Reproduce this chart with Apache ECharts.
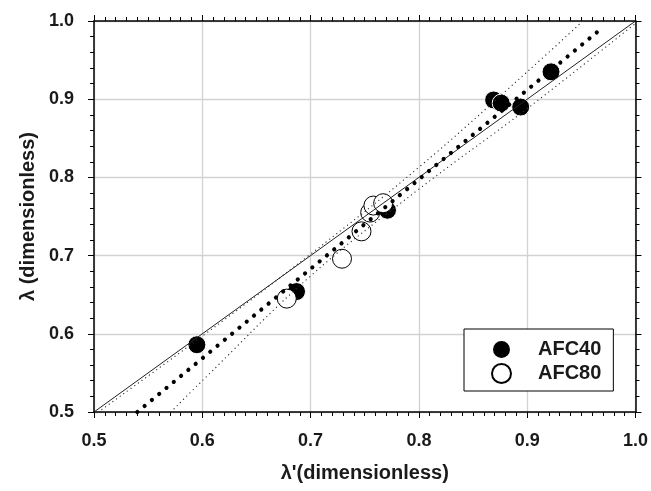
<!DOCTYPE html>
<html>
<head>
<meta charset="utf-8">
<script src="https://cdn.jsdelivr.net/npm/echarts@6/dist/echarts.min.js"></script>
<style>
html,body{margin:0;padding:0;background:#fff;}
#c{width:651px;height:491px;}
</style>
</head>
<body>
<div id="c"></div>
<script>
// ---- data ----
var afc40X = [0.595, 0.687, 0.771, 0.869, 0.876, 0.894, 0.922];
var afc40Y = [0.586, 0.654, 0.758, 0.899, 0.895, 0.890, 0.935];
var afc80X = [0.678, 0.729, 0.747, 0.755, 0.758, 0.767];
var afc80Y = [0.645, 0.696, 0.731, 0.755, 0.764, 0.767];
var identityX = [0.5, 1.0];
var identityY = [0.5, 1.0];
var fitX = [0.540, 0.970];
var fitY = [0.500, 0.992];
var upperX = [0.504, 0.600, 0.700, 0.800, 0.900, 0.949];
var upperY = [0.500, 0.597, 0.702, 0.813, 0.935, 0.997];
var lowerX = [0.571, 0.600, 0.700, 0.800, 0.900, 1.000];
var lowerY = [0.500, 0.540, 0.674, 0.785, 0.888, 0.997];
var tickLabels = ['0.5', '0.6', '0.7', '0.8', '0.9', '1.0'];

function pairs(xs, ys) { return xs.map(function (x, i) { return [x, ys[i]]; }); }
function fmt(v) {
  var s = v.toFixed(1);
  return tickLabels.indexOf(s) >= 0 ? s : '';
}

var FONT = '"Liberation Sans", Arial, sans-serif';
var TXT = '#1a1a1a';

function axisBase(minorSplit, pos, showLabel) {
  return {
    type: 'value', min: 0.5, max: 1.0, interval: 0.1, position: pos,
    axisLine: { show: true, onZero: false, lineStyle: { color: '#000', width: 1.5 } },
    axisTick: { show: true, inside: false, length: 6, lineStyle: { color: '#000', width: 1 } },
    minorTick: { show: true, splitNumber: minorSplit, length: 4, lineStyle: { color: '#000', width: 1 } },
    splitLine: { show: false },
    axisLabel: { show: showLabel, formatter: fmt, color: TXT, fontFamily: FONT, fontWeight: 'bold', fontSize: 18, margin: 20 }
  };
}

var xBottom = axisBase(10, 'bottom', true);
xBottom.splitLine = { show: true, lineStyle: { color: '#d2d2d2', width: 1.3 } };
xBottom.name = "λ'(dimensionless)";
xBottom.nameLocation = 'middle';
xBottom.nameGap = 51;
xBottom.nameTextStyle = { color: TXT, fontFamily: FONT, fontWeight: 'bold', fontSize: 20 };
var xTop = axisBase(10, 'top', false);

var yLeft = axisBase(5, 'left', true);
yLeft.splitLine = { show: true, lineStyle: { color: '#d2d2d2', width: 1.3 } };
yLeft.name = 'λ (dimensionless)';
yLeft.nameLocation = 'middle';
yLeft.nameGap = 51;
yLeft.nameTextStyle = { color: TXT, fontFamily: FONT, fontWeight: 'bold', fontSize: 20 };
var yRight = axisBase(5, 'right', false);

var chart = echarts.init(document.getElementById('c'), null, { renderer: 'canvas' });
chart.setOption({
  animation: false,
  backgroundColor: '#fff',
  grid: { left: 94, right: 15, top: 21, bottom: 79 },
  xAxis: [xBottom, xTop],
  yAxis: [yLeft, yRight],
  legend: {
    data: ['AFC40', 'AFC80'],
    orient: 'vertical',
    left: 464, top: 329,
    padding: [10, 12, 7, 27],
    backgroundColor: '#fff',
    borderColor: '#000', borderWidth: 1,
    itemWidth: 19, itemHeight: 19, itemGap: 3,
    textStyle: { color: TXT, fontFamily: FONT, fontWeight: 'bold', fontSize: 20, lineHeight: 21, padding: [0, 0, 0, 22] }
  },
  series: [
    { type: 'line', name: 'identity', data: pairs(identityX, identityY), symbol: 'none', silent: true,
      lineStyle: { color: '#222', width: 1 } },
    { type: 'line', name: 'upper', data: pairs(upperX, upperY), symbol: 'none', smooth: 0.4, silent: true,
      lineStyle: { color: '#333', width: 1.3, type: [0.01, 4.5], cap: 'round' } },
    { type: 'line', name: 'lower', data: pairs(lowerX, lowerY), symbol: 'none', smooth: 0.4, silent: true,
      lineStyle: { color: '#333', width: 1.3, type: [0.01, 4.5], cap: 'round' } },
    { type: 'line', name: 'fit', data: pairs(fitX, fitY), symbol: 'none', silent: true, clip: false,
      lineStyle: { color: '#000', width: 4.2, type: [0.01, 9.45], cap: 'round' } },
    { type: 'scatter', name: 'AFC40', data: pairs(afc40X, afc40Y), symbol: 'circle', symbolSize: 18,
      itemStyle: { color: '#000', borderColor: '#fff', borderWidth: 1, opacity: 1 } },
    { type: 'scatter', name: 'AFC80', data: pairs(afc80X, afc80Y), symbol: 'circle', symbolSize: 19,
      itemStyle: { color: '#fff', borderColor: '#000', borderWidth: 1, opacity: 1 } }
  ]
});
</script>
</body>
</html>
